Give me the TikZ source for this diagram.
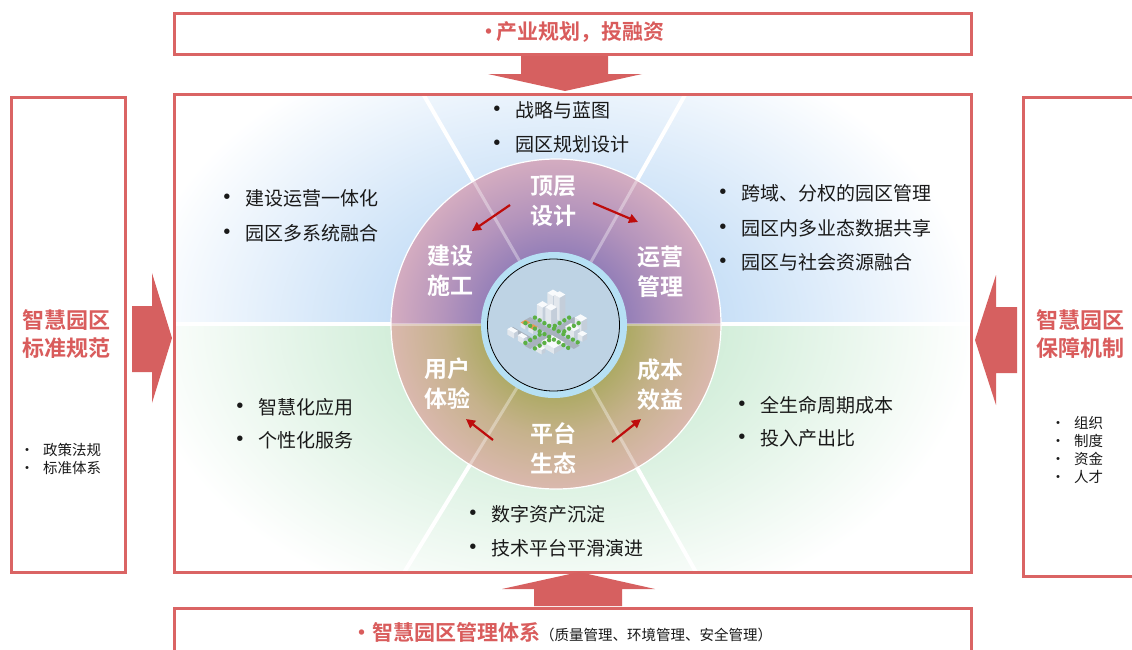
\documentclass[tikz,border=0pt]{standalone}
\usepackage{fontspec}
\setmainfont{Noto Sans CJK SC}[BoldFont={Noto Sans CJK SC Bold}]
\usetikzlibrary{arrows.meta}

\definecolor{boxred}{RGB}{218,100,100}
\definecolor{arrowred}{RGB}{214,96,96}
\definecolor{titlered}{RGB}{217,92,92}
\definecolor{flowred}{RGB}{190,12,12}
\definecolor{bodytext}{RGB}{25,25,25}
\definecolor{bgblue}{RGB}{194,220,246}
\definecolor{bggreen}{RGB}{206,236,214}
\definecolor{ringtopin}{RGB}{150,128,184}
\definecolor{ringtopmid}{RGB}{180,148,188}
\definecolor{ringtopout}{RGB}{212,172,192}
\definecolor{ringbotin}{RGB}{174,170,102}
\definecolor{ringbotmid}{RGB}{198,178,140}
\definecolor{ringbotout}{RGB}{218,184,174}
\definecolor{hubring}{RGB}{182,224,244}
\definecolor{hubfill}{RGB}{190,211,228}
\definecolor{road}{RGB}{168,178,190}
\definecolor{tree}{RGB}{92,176,68}
\definecolor{isotop}{RGB}{248,250,252}
\definecolor{isoright}{RGB}{196,206,218}
\definecolor{isoleft}{RGB}{226,231,237}
\definecolor{roofwarm}{RGB}{236,152,84}

% radial shadings: the path's bounding box half-width corresponds to 25bp
\pgfdeclareradialshading{glowblue}{\pgfpoint{0bp}{0bp}}{color(0bp)=(bgblue); color(8bp)=(bgblue); color(25bp)=(white); color(50bp)=(white)}
\pgfdeclareradialshading{glowgreen}{\pgfpoint{0bp}{0bp}}{color(0bp)=(bggreen); color(8bp)=(bggreen); color(25bp)=(white); color(50bp)=(white)}
\pgfdeclareradialshading{ringtop}{\pgfpoint{0bp}{0bp}}{color(0bp)=(ringtopin); color(11bp)=(ringtopin); color(17bp)=(ringtopmid); color(25bp)=(ringtopout); color(50bp)=(ringtopout)}
\pgfdeclareradialshading{ringbot}{\pgfpoint{0bp}{0bp}}{color(0bp)=(ringbotin); color(11bp)=(ringbotin); color(17bp)=(ringbotmid); color(25bp)=(ringbotout); color(50bp)=(ringbotout)}

% isometric block: [roof colour] x, y, width, depth, height
\newcommand\cityblk[6][isotop]{%
  \fill[isoright] ({#2+#4},{#3},0) -- ({#2+#4},{#3+#5},0) -- ({#2+#4},{#3+#5},#6) -- ({#2+#4},{#3},#6) -- cycle;
  \fill[isoleft] ({#2},{#3+#5},0) -- ({#2+#4},{#3+#5},0) -- ({#2+#4},{#3+#5},#6) -- ({#2},{#3+#5},#6) -- cycle;
  \fill[#1] ({#2},{#3},#6) -- ({#2+#4},{#3},#6) -- ({#2+#4},{#3+#5},#6) -- ({#2},{#3+#5},#6) -- cycle;}
\newcommand\bitem{\makebox[10pt][c]{\raisebox{-0.08em}{\scalebox{1.35}{•}}}\hspace{13pt}}
\newcommand\sitem{\makebox[8pt][c]{•}\hspace{12pt}}

\begin{document}
\begin{tikzpicture}[x=1pt,y=-1pt,
  frame/.style={draw=boxred, line width=3pt, anchor=north west, inner sep=0pt},
  blockarrow/.style={fill=arrowred},
  ray/.style={white, line width=4pt, line cap=round},
  rayin/.style={white, opacity=0.35, line width=3pt},
  flow/.style={draw=flowred, line width=2.2pt, -{Triangle[length=9pt,width=9pt]}},
  ringlabel/.style={text=white, font=\fontsize{23}{30}\selectfont\bfseries, align=center, inner sep=0pt},
  bul/.style={anchor=west, inner sep=0pt, text=bodytext, font=\fontsize{19}{22}\selectfont},
  smallbul/.style={anchor=west, inner sep=0pt, text=bodytext, font=\fontsize{14.5}{18}\selectfont},
  sidetitle/.style={text=titlered, font=\fontsize{22}{28}\selectfont\bfseries, align=center, inner sep=0pt},
  bandtitle/.style={text=titlered, font=\fontsize{21}{24}\selectfont\bfseries, inner sep=0pt},
  tree/.style={fill=tree}]
\useasboundingbox (0,0) rectangle (1132,649);
\fill[white] (0,0) rectangle (1132,649);

\coordinate (c) at (556,324);

% ---------- glow inside the main frame ----------
\begin{scope}
  \clip (173,93) rectangle (970,324);
  \shade[shading=glowblue] (136,24) rectangle (976,624);
\end{scope}
\begin{scope}
  \clip (173,324) rectangle (970,571);
  \shade[shading=glowgreen] (136,24) rectangle (976,624);
\end{scope}

% ---------- light rays ----------
\coordinate (rUL) at (396,47);
\coordinate (rUR) at (712,47);
\coordinate (rLL) at (375,620);
\coordinate (rLR) at (723,620);
\coordinate (rW) at (173,324);
\coordinate (rE) at (970,324);
\begin{scope}
  \clip (173,93) rectangle (970,571);
  \draw[ray] (c) -- (rUL);
  \draw[ray] (c) -- (rUR);
  \draw[ray] (c) -- (rLL);
  \draw[ray] (c) -- (rLR);
  \draw[white, line width=3.5pt] (rW) -- (rE);
\end{scope}

% ---------- ring ----------
\begin{scope}
  \clip (380,150) rectangle (730,324);
  \shade[shading=ringtop] (c) circle[radius=165pt];
\end{scope}
\begin{scope}
  \clip (380,324) rectangle (730,500);
  \shade[shading=ringbot] (c) circle[radius=165pt];
\end{scope}
\begin{scope}
  \clip (c) circle[radius=165pt];
  \draw[rayin] (c) -- (rUL);
  \draw[rayin] (c) -- (rUR);
  \draw[rayin] (c) -- (rLL);
  \draw[rayin] (c) -- (rLR);
  \draw[rayin] (rW) -- (rE);
\end{scope}
\draw[white, line width=1.2pt] (c) circle[radius=165pt];

% ---------- hub with the park model ----------
\fill[hubring] (554,325) circle[radius=73pt];
\filldraw[fill=hubfill, draw=black, line width=0.8pt] (553.5,325) circle[radius=66pt];
\begin{scope}[shift={(552,333)}, x={(0.95pt,-0.55pt)}, y={(-0.95pt,-0.55pt)}, z={(0pt,1.1pt)}]
  % streets
  \fill[road] (-26,-3,0) -- (26,-3,0) -- (26,3,0) -- (-26,3,0) -- cycle;
  \fill[road] (-3,-26,0) -- (3,-26,0) -- (3,26,0) -- (-3,26,0) -- cycle;
  \fill[road] (-26,15,0) -- (4,15,0) -- (4,19,0) -- (-26,19,0) -- cycle;
  % rear quarter: towers
  \cityblk{-22}{-12}{6}{6}{12}
  \cityblk{-21}{-22}{6}{6}{18}
  \cityblk{-13}{-21}{6}{6}{21}
  \cityblk{-13}{-12}{6}{6}{14}
  % right quarter: low offices
  \cityblk{8}{-22}{7}{6}{10}
  \cityblk{8}{-12}{9}{6}{7}
  \cityblk{19}{-13}{5}{5}{5}
  % left quarter: small shops
  \cityblk[roofwarm]{-22}{6}{5}{5}{4}
  \cityblk[roofwarm]{-14}{6}{5}{5}{4}
  \cityblk{-22}{21}{7}{4}{5}
  \cityblk{-11}{21}{6}{4}{5}
  % front quarter: large hall
  \cityblk{7}{7}{13}{11}{5}
  \cityblk{8}{21}{6}{4}{4}
  % trees along the streets
  \foreach \t in {-23,-18,...,22} {
    \fill[tree] (\t,-5,0) circle[radius=2.2pt];
    \fill[tree] (\t,5,0) circle[radius=2.2pt];
  }
  \foreach \t in {-23,-18,-13,-8,8,13,18,23} {
    \fill[tree] (-5,\t,0) circle[radius=2.2pt];
    \fill[tree] (5,\t,0) circle[radius=2.2pt];
  }
\end{scope}

% ---------- ring labels ----------
\node[ringlabel] (design) at (553,201) {顶层\\设计};
\node[ringlabel] (build) at (450,271) {建设\\施工};
\node[ringlabel] (operate) at (660,272) {运营\\管理};
\node[ringlabel] (user) at (447,384) {用户\\体验};
\node[ringlabel] (cost) at (660,385) {成本\\效益};
\node[ringlabel] (platform) at (553,448) {平台\\生态};

\coordinate (f1s) at (510,205); \coordinate (f1e) at (472,231);
\coordinate (f2s) at (593,203); \coordinate (f2e) at (638,222);
\coordinate (f3s) at (493,440); \coordinate (f3e) at (466,419);
\coordinate (f4s) at (612,442); \coordinate (f4e) at (641,419);
\draw[flow] (f1s) -- (f1e);
\draw[flow] (f2s) -- (f2e);
\draw[flow] (f3s) -- (f3e);
\draw[flow] (f4s) -- (f4e);

% ---------- bullet lists around the ring ----------
\node[bul] (t1) at (492,110) {\bitem 战略与蓝图};
\node[bul] (t2) at (492,144) {\bitem 园区规划设计};
\node[bul] (ul1) at (222,198) {\bitem 建设运营一体化};
\node[bul] (ul2) at (222,233) {\bitem 园区多系统融合};
\node[bul] (ur1) at (718,193) {\bitem 跨域、分权的园区管理};
\node[bul] (ur2) at (718,228) {\bitem 园区内多业态数据共享};
\node[bul] (ur3) at (718,262) {\bitem 园区与社会资源融合};
\node[bul] (ll1) at (235,407) {\bitem 智慧化应用};
\node[bul] (ll2) at (235,440) {\bitem 个性化服务};
\node[bul] (lr1) at (737,405) {\bitem 全生命周期成本};
\node[bul] (lr2) at (737,438) {\bitem 投入产出比};
\node[bul] (b1) at (468,514) {\bitem 数字资产沉淀};
\node[bul] (b2) at (468,548) {\bitem 技术平台平滑演进};

% ---------- frames ----------
\node[frame, minimum width=797pt, minimum height=478pt] (mainbox) at (173,93) {};
\node[frame, minimum width=797pt, minimum height=41pt] (topbox) at (173,12) {};
\node[frame, minimum width=114pt, minimum height=475pt] (leftbox) at (10,96) {};
\node[frame, minimum width=140pt, minimum height=479pt] (rightbox) at (1022,96) {};
\node[frame, minimum width=797pt, minimum height=70pt] (bottombox) at (173,607) {};

% ---------- block arrows into the main frame ----------
\fill[blockarrow] (521,56) -- (608,56) -- (608,74) -- (642,74) -- (565,91) -- (488,74) -- (521,74) -- cycle;
\fill[blockarrow] (534,606) -- (534,589) -- (502,589) -- (579,572) -- (655,589) -- (622,589) -- (622,606) -- cycle;
\fill[blockarrow] (132,306) -- (152,306) -- (152,273) -- (172,338) -- (152,403) -- (152,372) -- (132,372) -- cycle;
\fill[blockarrow] (1017,307) -- (996,307) -- (996,275) -- (975,340) -- (996,405) -- (996,373) -- (1017,373) -- cycle;

% ---------- frame texts ----------
\node[bandtitle] (toptext) at (573,32) {\makebox[14pt][c]{·}产业规划，投融资};
\node[inner sep=0pt, anchor=west] (bottomtext) at (352,632) {{\fontsize{21}{24}\selectfont\bfseries\color{titlered}\makebox[20pt][c]{·}智慧园区管理体系}{\fontsize{14.5}{18}\selectfont\color{bodytext}（质量管理、环境管理、安全管理）}};

\node[sidetitle] (lefttitle) at (67,334) {智慧园区\\标准规范};
\node[smallbul] (lb1) at (23,450) {\sitem 政策法规};
\node[smallbul] (lb2) at (23,468) {\sitem 标准体系};

\node[sidetitle] (righttitle) at (1080,334) {智慧园区\\保障机制};
\node[smallbul] (rb1) at (1054,423) {\sitem 组织};
\node[smallbul] (rb2) at (1054,441) {\sitem 制度};
\node[smallbul] (rb3) at (1054,459) {\sitem 资金};
\node[smallbul] (rb4) at (1054,477) {\sitem 人才};
\end{tikzpicture}
\end{document}
